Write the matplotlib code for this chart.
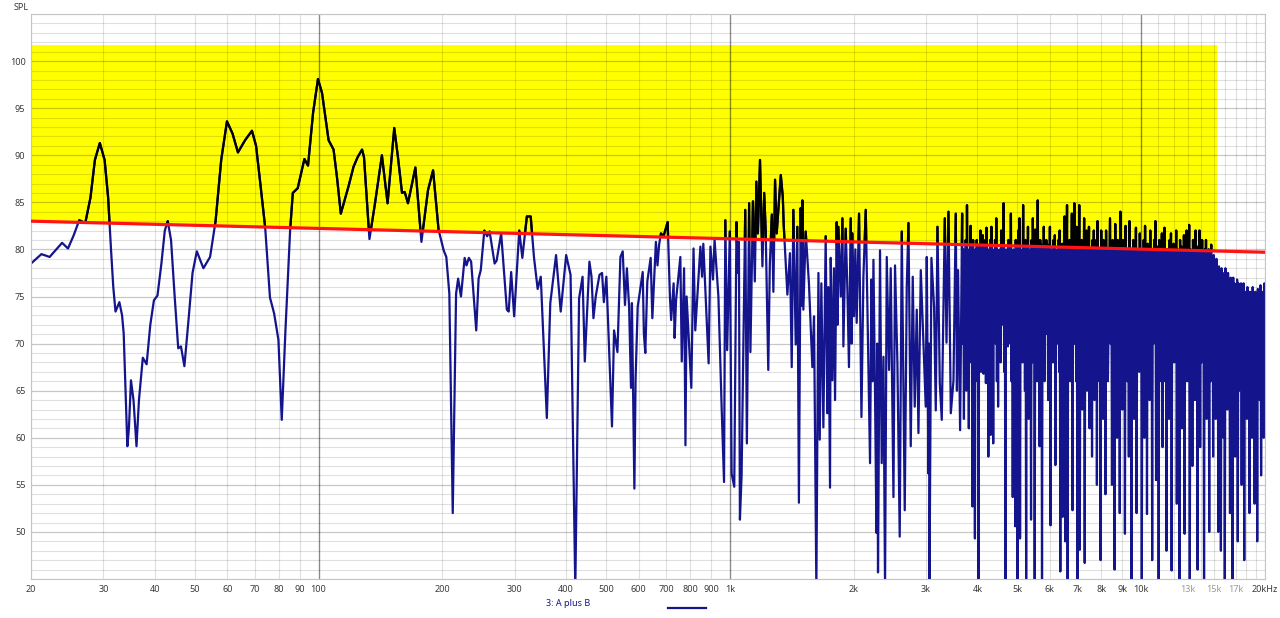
import numpy as np
import matplotlib
matplotlib.use('Agg')
import matplotlib.pyplot as plt
from matplotlib.patches import Polygon
from matplotlib.lines import Line2D
from matplotlib.ticker import FixedLocator, NullFormatter

plt.rcParams['font.family'] = ['Noto Sans', 'DejaVu Sans']

# low end, read point by point (Hz, dB)
low_freq = [20, 21.2, 22.2, 23.8, 24.6, 25.4, 26.2, 27.1, 27.9, 28.6, 29.4, 30.2, 30.8, 31.3, 31.7,
            32.1, 32.8, 33.3, 33.6, 34.0, 34.3, 34.6, 35.0, 35.5, 36.1, 36.6, 37.4, 38.2, 39.0, 39.8,
            40.6, 41.5, 42.3, 43.0, 43.8, 44.7, 45.6, 46.3, 47.2, 48.3, 49.4, 50.6, 52.5, 54.5, 56.2,
            58.0, 59.9, 61.8, 63.7, 66.3, 68.9, 70.5, 72.2, 74.2, 76.2, 78.0, 79.9, 81.4, 83.1, 84.2,
            85.3, 86.6, 89.0, 92.4, 94.3, 97.0, 99.7, 102, 105.8, 108.8, 111, 113.3, 118.3, 121.7, 124.5,
            127.6, 129, 133, 137.2, 142.6, 147.2, 152.8, 156, 159.6, 162, 165, 172, 177.9, 184.6, 189.9,
            195.8, 201.5, 204.5, 208, 212, 216, 218.5, 222, 226.6, 229, 232, 235, 241.8, 245, 248,
            253, 257, 260.6, 268, 271, 278, 287, 290, 294, 299, 307.6, 313, 321, 328, 334,
            341, 347, 359, 366, 378, 388, 400, 410, 421, 430, 438.5, 444, 455.6, 461, 466,
            472, 482, 489, 494, 501, 517, 523, 533, 542, 549, 556, 562, 569, 575, 578,
            586, 590, 597, 614, 618, 623, 630, 642, 648, 661, 667, 673, 680, 690, 706,
            715, 720, 730, 734, 740, 758, 764, 774, 780, 785, 806, 816, 824, 848, 856,
            862, 888, 897, 910, 918, 938, 955, 968, 975, 985, 1000, 1010, 1025, 1038, 1046,
            1052, 1058, 1068, 1090, 1100, 1114, 1122, 1138, 1150, 1160, 1170, 1184, 1200, 1212, 1222,
            1240, 1251, 1265, 1276, 1288, 1300, 1330, 1345, 1352]
low_spl = [78.5, 79.5, 79.2, 80.7, 80.1, 81.5, 83.1, 82.8, 85.5, 89.5, 91.3, 89.5, 85.5, 80, 76,
           73.4, 74.4, 73.0, 71.1, 64, 59.1, 61, 66.1, 64, 59.1, 64, 68.5, 67.8, 72, 74.6,
           75.1, 78.5, 82, 83.0, 81, 75, 69.5, 69.7, 67.6, 72.5, 77.5, 79.8, 78.0, 79.2, 83,
           89.5, 93.6, 92.3, 90.3, 91.6, 92.6, 91, 87, 82.3, 74.9, 73.2, 70.4, 61.9, 71.4, 76.7,
           82, 86.0, 86.5, 89.6, 88.9, 94.5, 98.1, 96.6, 91.6, 90.6, 87.5, 83.8, 86.7, 88.8, 89.8,
           90.6, 89.8, 81.1, 84.9, 90.0, 84.9, 92.9, 89.8, 86.0, 86.1, 84.9, 88.7, 80.8, 86.3, 88.4,
           82.1, 79.9, 79.2, 75.3, 52.0, 75.3, 76.9, 75.0, 79.1, 78.3, 79.1, 78.7, 71.4, 76.9, 77.8,
           82.0, 81.4, 81.9, 78.5, 78.8, 81.7, 73.6, 73.4, 77.6, 72.9, 82.0, 79.1, 83.5, 83.5, 79.2,
           75.8, 77.1, 62.1, 74.3, 79.4, 73.4, 79.4, 77.3, 44, 74.8, 77.1, 68.1, 78.7, 77.1, 72.7,
           75.0, 77.3, 77.5, 74.4, 77.1, 61.2, 71.4, 69.1, 79.2, 79.8, 74.1, 78.0, 73.9, 65.3, 74.3,
           54.6, 66.3, 73.9, 77.6, 71.1, 69.0, 76.6, 79.1, 72.7, 80.8, 78.3, 80.5, 81.7, 81.4, 82.9,
           75.0, 72.5, 76.4, 70.6, 74.6, 79.2, 68.1, 78.0, 59.2, 75.0, 65.3, 80.1, 71.4, 80.3, 77.1,
           80.6, 67.9, 80.3, 76.8, 81.0, 75.0, 63.3, 55.3, 83.1, 69.3, 81.9, 56.2, 54.8, 82.9, 77.5,
           80.8, 51.3, 56.0, 84.2, 59.4, 84.9, 69.1, 85.1, 76.6, 87.2, 81.7, 89.5, 78.2, 86.0, 82.1,
           67.2, 78.5, 83.7, 75.5, 87.4, 81.7, 87.9, 85.6, 82.6]

# 1.4k - 3.6k
mid_freq = [1380, 1400, 1414, 1427, 1446, 1459, 1472, 1487, 1494, 1501, 1509, 1529, 1557, 1587, 1602,
            1623, 1642, 1654, 1669, 1688, 1710, 1726, 1736, 1752, 1759, 1775, 1791, 1802, 1819, 1828,
            1836, 1860, 1878, 1888, 1913, 1931, 1948, 1967, 1976, 1986, 2004, 2019, 2034, 2061, 2089,
            2112, 2140, 2167, 2192, 2209, 2222, 2234, 2254, 2272, 2282, 2292, 2318, 2340, 2363, 2384,
            2407, 2438, 2461, 2499, 2521, 2555, 2588, 2618, 2662, 2692, 2718, 2753, 2784, 2815, 2847,
            2874, 2912, 2956, 2994, 3011, 3040, 3049, 3057, 3091, 3137, 3167, 3197, 3239, 3275, 3331,
            3363, 3400, 3445, 3497, 3542, 3565, 3588, 3629]
mid_spl = [75.2, 79.6, 67.5, 84.2, 69.9, 82.4, 53.1, 84.4, 74, 85.2, 73.6, 81.9, 76.4, 67.5, 72.9,
           44, 77.5, 59.8, 76.4, 61.1, 81.4, 62.6, 76.0, 54.7, 79.1, 66.1, 78.0, 64.0, 82.9, 72,
           82.4, 75.0, 83.3, 69.7, 82.2, 75.7, 67.5, 83.3, 70, 81.7, 72.9, 80, 72.2, 83.8, 62.2,
           77.1, 84.2, 70.4, 57.3, 76.8, 66, 78.9, 64.7, 49.9, 70, 45.7, 79.9, 57.3, 68.6, 44,
           79.2, 67.2, 78.0, 53.7, 78.3, 67.9, 49.5, 81.9, 52.3, 76.0, 82.8, 59.1, 77.1, 63.3, 73.6,
           60.5, 77.8, 70.1, 63.3, 79.2, 56.2, 70, 44, 79.1, 73.9, 62.9, 82.4, 65.8, 61.9, 83.3,
           70.1, 84.0, 62.6, 66.1, 83.8, 65, 77.8, 60.8]

# dense part 3.7k - 8.3k
hi1_spl = [83.8, 70, 80, 62, 79, 73, 81, 65, 84.7, 71, 78, 61, 80, 74, 82.5, 68, 79, 52.7, 81, 72,
           78, 49.3, 80, 70, 81, 66, 79, 45, 80.5, 73, 82, 67, 80, 70, 81.5, 66.8, 79, 74, 81, 65.8,
           82.3, 71, 79, 58, 80, 72, 81, 60.3, 82.4, 69, 80, 59.4, 78, 73, 81, 70, 83.3, 66, 80, 63.3,
           79, 72, 80, 68, 82, 74, 80, 72, 84.9, 67, 79, 44, 80, 71, 79, 69.7, 81, 74, 80, 70,
           83.8, 66, 79, 53.7, 80, 72, 79.5, 50.6, 81, 69, 80, 44, 82, 73, 83.3, 49.3, 80, 70, 79, 68,
           84.7, 72, 80, 65, 81, 44, 79, 70, 82.4, 62, 80, 74, 79, 51.3, 81, 68, 83.3, 72, 80, 44,
           82.1, 70, 79, 66, 85.2, 73, 80, 59.1, 81, 69, 80.5, 44, 79, 72, 82.4, 66, 80, 71, 81, 72,
           80.5, 64, 79, 70, 82.4, 50.7, 80, 73, 79.5, 68, 81, 70, 81.5, 57.1, 79, 72, 80, 70, 81, 67,
           82, 45.8, 80, 71, 80.6, 51.6, 79, 69, 83.5, 49, 81, 73, 84.7, 44, 80, 68, 81, 66, 79, 72,
           83.8, 52.3, 80, 70, 84.9, 70, 81, 66, 82.4, 44, 79, 71, 84.7, 48.1, 80, 69, 81, 63, 80, 72,
           83.3, 46.7, 79, 70, 82, 65, 80, 73, 82.4, 61, 79, 68, 80, 58, 81, 71, 82, 64, 80, 70,
           81, 55, 83, 72, 80, 66, 79, 47, 82, 71, 80, 62, 81, 69, 79, 54, 82, 70, 80, 66]
# dense part 8.4k - 20k
hi2_spl = [83.3, 70, 80, 55, 81, 72, 80, 46, 82.7, 68, 79, 60, 81, 73, 79, 52, 84, 70, 80, 63,
           81, 71, 80, 49.8, 82.5, 72, 80, 66, 79, 58, 83, 70, 80, 45, 79.5, 68, 81, 62, 80, 73,
           82.3, 52, 79, 70, 80, 67, 81.7, 72, 80, 44, 79, 68, 81, 60, 82.5, 72, 80, 51.9, 80.6, 70,
           79, 64, 82, 71, 80, 47, 79, 70, 81, 73, 83, 55.5, 80, 69, 80.3, 44, 81, 72, 79, 66,
           81.7, 59, 80, 71, 82.3, 66, 79, 48, 80, 72, 79.5, 62, 81, 70, 81.7, 45.9, 80, 73, 80.6, 68,
           79, 70, 82, 53, 80, 72, 79, 44, 81, 68, 80.3, 61, 79, 71, 81.5, 49.8, 80, 70, 82, 66,
           80, 72, 82.6, 44, 80, 69, 79.5, 57, 81, 71, 80, 64, 82, 70, 80.3, 46, 79, 72, 82, 59,
           80, 68, 81, 71, 79.4, 44, 80, 70, 81, 62, 79, 72, 80, 50, 79, 66, 80.5, 71, 79, 58,
           79.4, 66, 78.2, 62, 79, 70, 77.5, 50, 78.2, 68, 77, 48, 78, 71, 76.8, 60, 77.5, 45, 78, 69,
           76.8, 63, 77.5, 70, 76.2, 52, 77, 67, 76.5, 44, 77, 70, 76.4, 58, 75.6, 68, 76.8, 49, 76.4, 65,
           75.8, 70, 76.4, 55, 75, 68, 76.4, 47, 75.5, 69, 75, 62, 76, 66, 75.2, 52, 75.5, 70, 74.8, 60,
           76, 68, 75.2, 53, 75.5, 71, 74.8, 49, 75.8, 66, 75, 64, 76.2, 56, 75, 69, 75.5, 60, 76.4, 70]

target_db = [83.0, 79.7]      # red line at 20 Hz and 20 kHz
yellow_top = 101.7
yellow_end = 15300

x_ticks = [20, 30, 40, 50, 60, 70, 80, 90, 100, 200, 300, 400, 500, 600, 700, 800, 900,
           1000, 2000, 3000, 4000, 5000, 6000, 7000, 8000, 9000, 10000, 13000, 15000, 17000, 20000]
x_labels = ['20', '30', '40', '50', '60', '70', '80', '90', '100', '200', '300', '400', '500', '600',
            '700', '800', '900', '1k', '2k', '3k', '4k', '5k', '6k', '7k', '8k', '9k', '10k',
            '13k', '15k', '17k', '20kHz']

navy = '#14148c'

freq = np.concatenate([low_freq, mid_freq,
                       np.geomspace(3670, 8300, len(hi1_spl)),
                       np.geomspace(8400, 20000, len(hi2_spl))])
spl = np.concatenate([low_spl, mid_spl, hi1_spl, hi2_spl])


def target(f):
    return target_db[0] + (target_db[1] - target_db[0]) * np.log10(np.asarray(f) / 20.0) / 3.0


fig = plt.figure(figsize=(12.8, 6.18), dpi=100)
ax = fig.add_axes([31 / 1280, 39 / 618, 1234 / 1280, 565 / 618])
ax.set_xscale('log')
ax.set_xlim(20, 20000)
ax.set_ylim(45, 105)

verts = [(20, target(20)), (yellow_end, target(yellow_end)), (yellow_end, yellow_top), (20, yellow_top)]
ax.add_patch(Polygon(verts, closed=True, facecolor='#ffff00', edgecolor='none', zorder=0.2))

# grid
ax.set_axisbelow(True)
ax.yaxis.set_major_locator(FixedLocator(range(50, 101, 5)))
ax.yaxis.set_minor_locator(FixedLocator(range(45, 106)))
grid_f = [m * 10 ** e for e in (1, 2, 3) for m in range(2, 10)] + list(range(10000, 20001, 1000))
ax.xaxis.set_major_locator(FixedLocator(x_ticks))
ax.xaxis.set_minor_locator(FixedLocator(grid_f))
ax.xaxis.set_minor_formatter(NullFormatter())
ax.set_xticklabels(x_labels)
ax.grid(True, which='minor', axis='both', color='black', alpha=0.12, lw=0.8)
ax.grid(True, which='major', axis='y', color='black', alpha=0.22, lw=0.9)
ax.grid(True, which='major', axis='x', color='black', alpha=0.12, lw=0.8)
for d in (100, 1000, 10000):
    ax.axvline(d, color='black', alpha=0.38, lw=1.0, zorder=0.5)

ax.plot(freq, spl, color=navy, lw=1.6, zorder=2)
blk, = ax.plot(freq, spl, color='black', lw=1.6, zorder=2.1)
blk.set_clip_path(Polygon(verts, closed=True, transform=ax.transData))

ax.plot([20, 20000], target_db, color='#ff1414', lw=2.3, zorder=3)

ax.tick_params(which='both', length=0, labelsize=6.5, labelcolor='#3a3a3a', pad=4)
for t, lab in zip(ax.get_xticklabels(), x_labels):
    if lab in ('13k', '15k', '17k'):
        t.set_color('#9a9a9a')
for s in ax.spines.values():
    s.set_color('#c4c4c4')

fig.text(14 / 1280, 1 - 7 / 618, 'SPL', fontsize=6.5, color='#3a3a3a', va='center')
fig.text(568 / 1280, 14 / 618, '3: A plus B', fontsize=6.5, color=navy, ha='center', va='center')
fig.add_artist(Line2D([668 / 1280, 706 / 1280], [10 / 618, 10 / 618], color=navy, lw=1.6))

fig.savefig('out.png', dpi=100)
